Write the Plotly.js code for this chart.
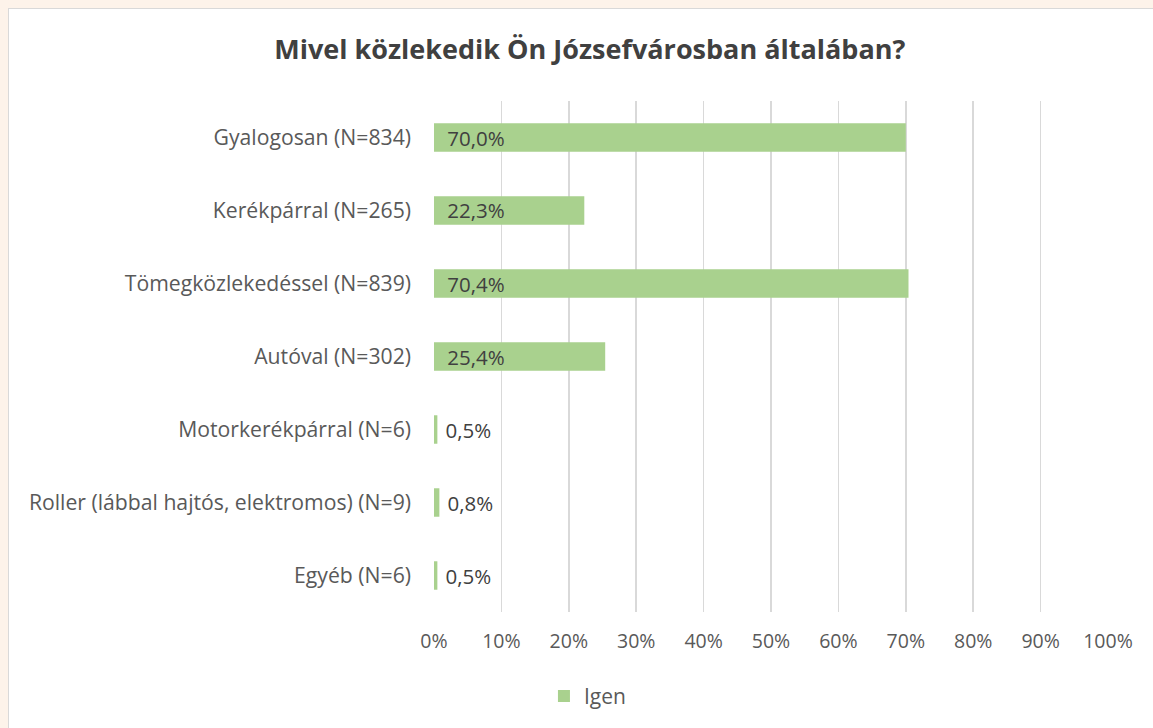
<!DOCTYPE html>
<html>
<head>
<meta charset="utf-8">
<script src="https://cdn.plot.ly/plotly-3.0.1.min.js"></script>
<style>
html,body{margin:0;padding:0;background:#FDF3EA;overflow:hidden;width:1153px;height:728px;}
#frame{position:absolute;left:8px;top:8px;width:1160px;height:740px;background:#fff;border-left:1.5px solid #D9D9D9;border-top:1.5px solid #D9D9D9;}
#chart{position:absolute;left:0;top:0;}
</style>
</head>
<body>
<div id="frame"><div id="chart"></div></div>
<script>
const categories = [
  "Gyalogosan (N=834)",
  "Kerékpárral (N=265)",
  "Tömegközlekedéssel (N=839)",
  "Autóval (N=302)",
  "Motorkerékpárral (N=6)",
  "Roller (lábbal hajtós, elektromos) (N=9)",
  "Egyéb (N=6)"
];
const values = [0.700, 0.223, 0.704, 0.254, 0.005, 0.008, 0.005];
const seriesName = "Igen";
const xTickValues = [0,0.1,0.2,0.3,0.4,0.5,0.6,0.7,0.8,0.9,1.0];

const textColor = "#595959";
const labelFont = "Open Sans, sans-serif";
const isInside = values.map(v => v >= 0.1);
const positions = isInside.map(b => b ? "inside" : "outside");
const templates = isInside.map(b => (b ? "\u2002" : "\u2005") + "%{x:.1%}");

const trace = {
  type: "bar",
  orientation: "h",
  name: seriesName,
  y: categories,
  x: values,
  marker: {color: "#A9D18E"},
  texttemplate: templates,
  textposition: positions,
  insidetextanchor: "start",
  constraintext: "none",
  cliponaxis: false,
  textfont: {family: labelFont, size: 20.5, color: "#404040"},
  insidetextfont: {family: labelFont, size: 20.5, color: "#404040"},
  outsidetextfont: {family: labelFont, size: 20.5, color: "#404040"},
  hoverinfo: "skip"
};

const layout = {
  width: 1150,
  height: 725,
  separators: ", ",
  paper_bgcolor: "rgba(0,0,0,0)",
  plot_bgcolor: "rgba(0,0,0,0)",
  margin: {l: 425, r: 51, t: 92, b: 122},
  bargap: 0.61,
  font: {family: labelFont, color: textColor, size: 20},
  title: {
    text: "<b>Mivel közlekedik Ön Józsefvárosban általában?</b>",
    font: {family: labelFont, size: 27, color: "#404040"},
    x: 0.505, xref: "container", xanchor: "center",
    y: 0.944, yref: "container", yanchor: "middle"
  },
  xaxis: {
    range: [0, 1],
    tickvals: xTickValues,
    tickformat: ".0%",
    showgrid: true,
    gridcolor: "#D9D9D9",
    gridwidth: 1.5,
    zeroline: false,
    showline: false,
    ticks: "",
    ticklabelstandoff: 15,
    tickfont: {family: labelFont, size: 19.5, color: textColor},
    fixedrange: true
  },
  yaxis: {
    autorange: "reversed",
    showgrid: false,
    zeroline: false,
    showline: false,
    ticks: "",
    ticklabelstandoff: 22,
    tickfont: {family: labelFont, size: 21.2, color: textColor},
    fixedrange: true
  },
  showlegend: true,
  legend: {
    orientation: "h",
    x: 0.503, xref: "container", xanchor: "center",
    y: 0.052, yref: "container", yanchor: "middle",
    font: {family: labelFont, size: 21, color: textColor},
    itemwidth: 30
  }
};

Plotly.newPlot("chart", [trace], layout, {displayModeBar: false, staticPlot: true});
</script>
</body>
</html>
